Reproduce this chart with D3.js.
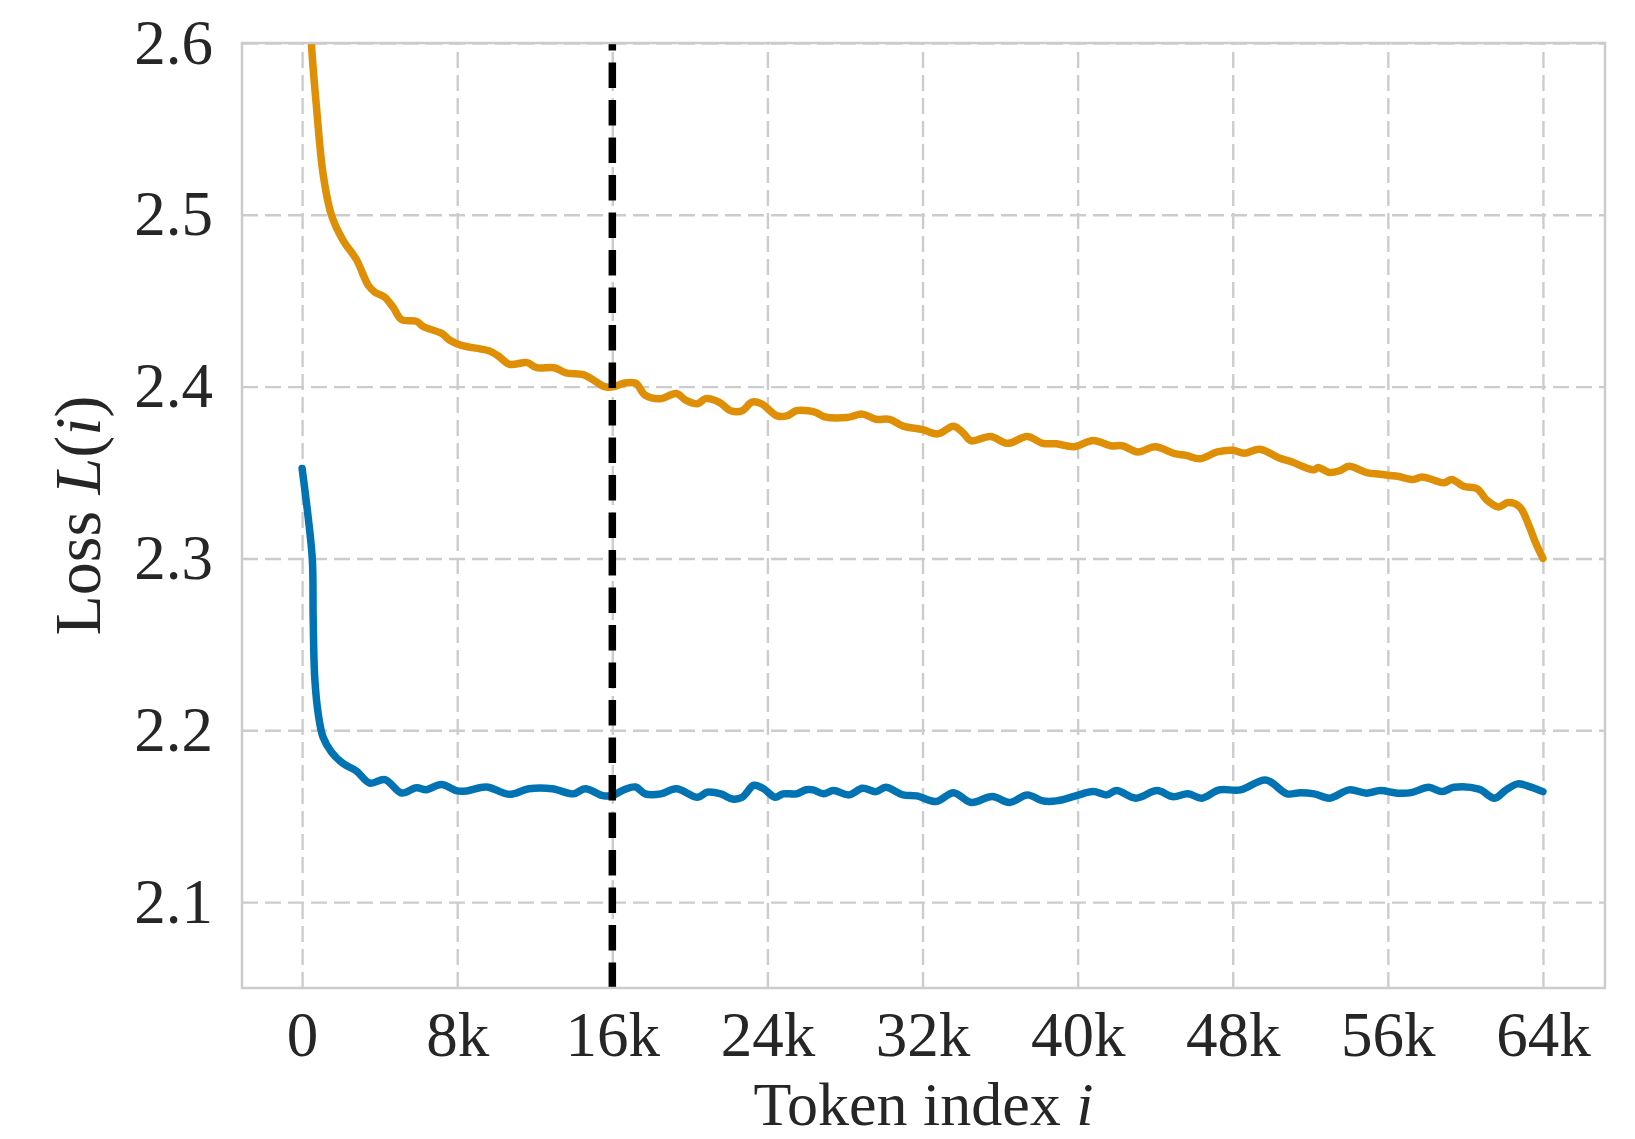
<!DOCTYPE html>
<html>
<head>
<meta charset="utf-8">
<script src="https://cdn.jsdelivr.net/npm/d3@7"></script>
<style>
  html, body { margin: 0; padding: 0; background: #fff; }
  svg text { font-family: "Liberation Serif", "Times New Roman", serif; fill: #262626; }
</style>
</head>
<body>
<svg id="chart"></svg>
<script>
// token positions in thousands, loss values
const orangeTokens = [0, 0.2, 0.35, 0.48, 0.74, 1.08, 1.51, 2.12, 2.8, 3.41, 3.75, 4.27, 4.7, 5.13, 5.9, 6.24, 7.19, 7.62, 8.22, 9.17, 9.6, 10.1, 10.7, 11.6, 12.1, 13.0, 13.6, 14.5, 15.0, 15.6, 16.1, 16.6, 17.2, 17.7, 18.5, 19.3, 19.8, 20.4, 20.8, 21.5, 22.1, 22.7, 23.2, 23.7, 24.5, 25.0, 25.5, 26.1, 26.5, 26.9, 28.1, 28.9, 29.6, 30.3, 31.0, 32.0, 32.8, 33.6, 34.1, 34.5, 35.5, 36.4, 37.4, 38.2, 38.9, 39.8, 40.8, 41.7, 42.3, 43.1, 44.0, 45.0, 45.6, 46.3, 47.2, 48.0, 48.6, 49.4, 50.4, 51.1, 51.6, 52.2, 52.4, 53.0, 53.5, 54.0, 54.9, 55.6, 56.5, 57.3, 57.75, 58.4, 58.9, 59.3, 59.9, 60.6, 61.1, 61.7, 62.2, 62.8, 63.3, 63.6, 64.0];
const orangeLoss = [2.85, 2.71, 2.645, 2.6, 2.563, 2.524, 2.5, 2.485, 2.474, 2.459, 2.455, 2.452, 2.446, 2.439, 2.438, 2.435, 2.431, 2.427, 2.424, 2.422, 2.421, 2.418, 2.413, 2.414, 2.411, 2.411, 2.408, 2.407, 2.404, 2.4, 2.4, 2.402, 2.402, 2.395, 2.393, 2.396, 2.392, 2.39, 2.393, 2.391, 2.386, 2.386, 2.391, 2.39, 2.383, 2.383, 2.386, 2.386, 2.385, 2.3826, 2.382, 2.384, 2.381, 2.381, 2.377, 2.375, 2.3725, 2.377, 2.373, 2.3685, 2.371, 2.367, 2.371, 2.367, 2.3667, 2.365, 2.3687, 2.3656, 2.3656, 2.362, 2.365, 2.361, 2.36, 2.358, 2.362, 2.363, 2.3613, 2.3636, 2.3584, 2.356, 2.3536, 2.3516, 2.353, 2.35, 2.351, 2.3536, 2.35, 2.349, 2.3478, 2.346, 2.3474, 2.3455, 2.344, 2.346, 2.342, 2.3406, 2.334, 2.33, 2.3325, 2.33, 2.3184, 2.3097, 2.3];

const blueTokens = [0, 0.31, 0.53, 0.57, 0.65, 0.83, 1.08, 1.51, 2.12, 2.8, 3.49, 4.27, 5.13, 5.9, 6.4, 7.19, 8.0, 8.5, 9.5, 10.7, 11.7, 12.9, 14.0, 14.6, 15.5, 16.0, 16.6, 17.2, 17.7, 18.5, 19.3, 20.4, 20.9, 21.6, 22.2, 22.7, 23.3, 23.8, 24.4, 24.8, 25.5, 26.0, 26.36, 26.9, 27.4, 28.2, 28.9, 29.6, 30.1, 31.0, 31.7, 32.7, 33.6, 34.5, 35.6, 36.5, 37.4, 38.2, 38.9, 39.9, 40.8, 41.5, 42.0, 43.0, 44.1, 44.9, 45.7, 46.4, 47.3, 48.4, 49.7, 50.8, 51.5, 52.2, 53.0, 54.0, 54.9, 55.6, 56.5, 57.2, 58.1, 58.8, 59.4, 60.7, 61.5, 62.1, 62.7, 63.3, 64.0];
const blueLoss = [2.3524, 2.3243, 2.299, 2.266, 2.231, 2.2097, 2.196, 2.1874, 2.1806, 2.1763, 2.1693, 2.1713, 2.1635, 2.1666, 2.1654, 2.1685, 2.1647, 2.1647, 2.167, 2.1627, 2.166, 2.166, 2.163, 2.166, 2.162, 2.162, 2.1654, 2.167, 2.163, 2.163, 2.166, 2.161, 2.164, 2.163, 2.16, 2.161, 2.168, 2.166, 2.161, 2.163, 2.163, 2.1654, 2.1653, 2.163, 2.1649, 2.1624, 2.1662, 2.1643, 2.1668, 2.1624, 2.1618, 2.1585, 2.1637, 2.158, 2.1614, 2.158, 2.1624, 2.1589, 2.1589, 2.1618, 2.1643, 2.1624, 2.1649, 2.1605, 2.1649, 2.1614, 2.163, 2.1605, 2.1653, 2.1653, 2.1711, 2.163, 2.1637, 2.163, 2.1605, 2.1653, 2.1634, 2.1649, 2.1634, 2.1637, 2.1668, 2.1643, 2.1668, 2.1657, 2.1605, 2.1653, 2.1688, 2.1672, 2.1643];

const xTicks = [0, 8, 16, 24, 32, 40, 48, 56, 64];
const xTickLabels = ["0", "8k", "16k", "24k", "32k", "40k", "48k", "56k", "64k"];
const yTicks = [2.1, 2.2, 2.3, 2.4, 2.5, 2.6];
const cutoffToken = 16;

const W = 1635, H = 1139;
const margin = { top: 43, right: 30, bottom: 151, left: 242 };
const width = W - margin.left - margin.right;
const height = H - margin.top - margin.bottom;

const svg = d3.select("#chart").attr("width", W).attr("height", H);
const g = svg.append("g").attr("transform", `translate(${margin.left},${margin.top})`);

const x = d3.scaleLinear().domain([-3.1, 67.2]).range([0, width]);
const y = d3.scaleLinear().domain([2.05, 2.6]).range([height, 0]);

// grid + tick labels
const xAxis = g.append("g")
  .attr("transform", `translate(0,${height})`)
  .call(d3.axisBottom(x).tickValues(xTicks)
    .tickFormat((d, i) => xTickLabels[i])
    .tickSizeInner(-height).tickSizeOuter(0).tickPadding(23));
const yAxis = g.append("g")
  .call(d3.axisLeft(y).tickValues(yTicks).tickFormat(d3.format(".1f"))
    .tickSizeInner(-width).tickSizeOuter(0).tickPadding(29));

[xAxis, yAxis].forEach((a) => {
  a.select(".domain").remove();
  a.selectAll(".tick line")
    .attr("stroke", "#cccccc")
    .attr("stroke-width", 2.4)
    .attr("stroke-dasharray", "16,7");
  a.selectAll(".tick text")
    .attr("font-size", "63px")
    .attr("fill", "#262626");
});

g.append("clipPath").attr("id", "plot-clip")
  .append("rect").attr("width", width).attr("height", height);

const line = d3.line()
  .curve(d3.curveCatmullRom.alpha(0.5))
  .x((d) => x(d[0]))
  .y((d) => y(d[1]));

const plot = g.append("g").attr("clip-path", "url(#plot-clip)");

plot.append("path")
  .datum(orangeTokens.map((t, i) => [t, orangeLoss[i]]))
  .attr("fill", "none")
  .attr("stroke", "#de8f05")
  .attr("stroke-width", 7.5)
  .attr("stroke-linejoin", "round")
  .attr("stroke-linecap", "round")
  .attr("d", line);

plot.append("path")
  .datum(blueTokens.map((t, i) => [t, blueLoss[i]]))
  .attr("fill", "none")
  .attr("stroke", "#0173b2")
  .attr("stroke-width", 7.5)
  .attr("stroke-linejoin", "round")
  .attr("stroke-linecap", "round")
  .attr("d", line);

// cutoff marker, dashes start from the bottom like matplotlib's axvline
g.append("line")
  .attr("x1", x(cutoffToken)).attr("x2", x(cutoffToken))
  .attr("y1", height).attr("y2", 0)
  .attr("stroke", "#000")
  .attr("stroke-width", 7.5)
  .attr("stroke-dasharray", "25.5,12");

// frame
g.append("rect")
  .attr("width", width).attr("height", height)
  .attr("fill", "none")
  .attr("stroke", "#cccccc")
  .attr("stroke-width", 2.5);

// axis labels
const xl = svg.append("text")
  .attr("x", margin.left + width / 2)
  .attr("y", 1125)
  .attr("text-anchor", "middle")
  .attr("font-size", "62px");
xl.append("tspan").text("Token index ");
xl.append("tspan").attr("font-style", "italic").text("i");

const yl = svg.append("text")
  .attr("transform", `translate(100,${margin.top + height / 2}) rotate(-90)`)
  .attr("text-anchor", "middle")
  .attr("font-size", "66px");
yl.append("tspan").text("Loss ");
yl.append("tspan").attr("font-style", "italic").text("L");
yl.append("tspan").text("(");
yl.append("tspan").attr("font-style", "italic").text("i");
yl.append("tspan").text(")");
</script>
</body>
</html>
